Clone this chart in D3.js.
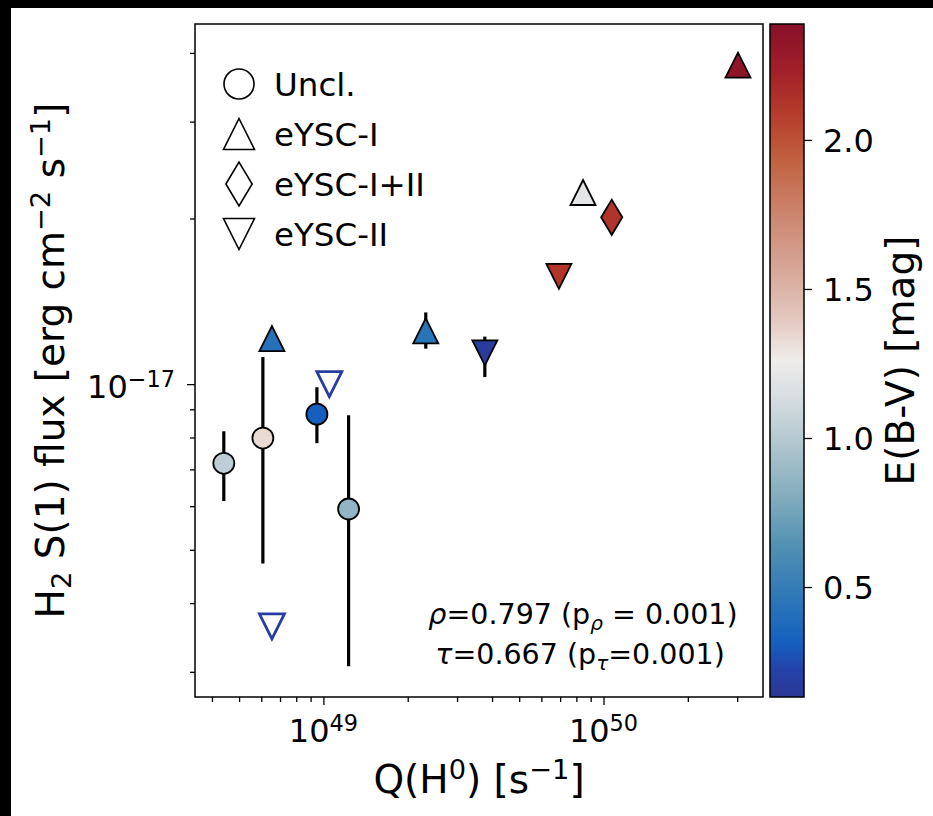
<!DOCTYPE html>
<html>
<head>
<meta charset="utf-8">
<script src="https://cdn.jsdelivr.net/npm/d3@7"></script>
<style>
  body { margin: 0; background: #fff; }
  svg { display: block; font-family: "DejaVu Sans", sans-serif; }
</style>
</head>
<body>
<div id="chart"></div>
<script>
var svgWidth = 933;
var svgHeight = 816;

// plot frame and colorbar box (pixels)
var plot = { left: 195, right: 763, top: 24, bottom: 697 };
var cbar = { left: 770, right: 804 };

// ---- data ----
var classes = ["Uncl.", "Uncl.", "Uncl.", "Uncl.",
  "eYSC-I", "eYSC-I", "eYSC-I", "eYSC-I",
  "eYSC-I+II",
  "eYSC-II", "eYSC-II", "eYSC-II", "eYSC-II"];
var qH0 = [4.41e48, 6.08e48, 9.48e48, 1.23e49,
  6.55e48, 2.32e49, 8.45e49, 3.02e50,
  1.07e50,
  6.93e49, 3.77e49, 1.05e49, 6.55e48];
var h2Flux = [7.18e-18, 7.98e-18, 8.82e-18, 5.93e-18,
  1.21e-17, 1.25e-17, 2.23e-17, 3.80e-17,
  2.01e-17,
  1.57e-17, 1.14e-17, 1.00e-17, 3.63e-18];
var fluxLow = [6.13e-18, 4.72e-18, 7.81e-18, 3.07e-18,
  null, 1.16e-17, null, null,
  null,
  null, 1.03e-17, null, null];
var fluxHigh = [8.21e-18, 1.12e-17, 9.87e-18, 8.78e-18,
  null, 1.35e-17, null, null,
  null,
  null, 1.22e-17, null, null];
var ebv = [1.03, 1.33, 0.31, 0.86,
  0.42, 0.44, 1.2, 2.35,
  2.13,
  2.12, 0.16, 0.18, 0.18];
// hollow markers (upper limits)
var upperLimit = [false, false, false, false,
  false, false, false, false,
  false,
  false, false, true, true];

var legendLabels = ["Uncl.", "eYSC-I", "eYSC-I+II", "eYSC-II"];
var cbarTicks = [0.5, 1.0, 1.5, 2.0];
var xMajor = [1e49, 1e50];
var xMajorExp = ["49", "50"];
var yMajor = [1e-17];
var yMajorExp = ["\u221217"];

// colormap stops (fraction of range, colour) sampled from the colorbar
var cmapPos = [0, 0.04, 0.08, 0.14, 0.22, 0.30, 0.38, 0.45, 0.50, 0.56, 0.64, 0.72, 0.80, 0.87, 0.93, 1];
var cmapCol = ["#2b3896", "#2541a8", "#1560bf", "#2a75b9", "#4f8fb1", "#84adbd", "#b3c8cf", "#d9dfe2",
  "#efecea", "#e3c9c0", "#d6a595", "#cc846c", "#c1603f", "#b43a2b", "#a22029", "#871029"];
var ebvDomain = [0.131, 2.389];

var shapeOf = { "Uncl.": "circle", "eYSC-I": "up", "eYSC-I+II": "diamond", "eYSC-II": "down" };

var svg = d3.select("#chart")
  .append("svg")
  .attr("width", svgWidth)
  .attr("height", svgHeight);

svg.append("rect").attr("width", svgWidth).attr("height", svgHeight).attr("fill", "#fff");
// black strips at the top / left edge of the original screenshot
svg.append("rect").attr("x", 0).attr("y", 0).attr("width", svgWidth).attr("height", 8).attr("fill", "#000");
svg.append("rect").attr("x", 0).attr("y", 0).attr("width", 11).attr("height", svgHeight).attr("fill", "#000");

// Step 1: scales
var x = d3.scaleLog().domain([3.48e48, 3.71e50]).range([plot.left, plot.right]);
var y = d3.scaleLog().domain([2.70e-18, 4.514e-17]).range([plot.bottom, plot.top]);
var cpos = d3.scaleLinear().domain(ebvDomain).range([0, 1]);
var cmap = d3.scaleLinear().domain(cmapPos).range(cmapCol).interpolate(d3.interpolateRgb);
var color = function(v) { return cmap(Math.max(0, Math.min(1, cpos(v)))); };
var cy = d3.scaleLinear().domain(ebvDomain).range([plot.bottom, plot.top]);

// marker path strings, centred on the bounding box like matplotlib
function markerPath(kind, s) {
  var h = s / 2;
  if (kind === "circle") {
    return "M" + (-h) + ",0A" + h + "," + h + " 0 1,0 " + h + ",0A" + h + "," + h + " 0 1,0 " + (-h) + ",0Z";
  }
  if (kind === "up") return "M0," + (-h) + "L" + h + "," + h + "L" + (-h) + "," + h + "Z";
  if (kind === "down") return "M0," + h + "L" + h + "," + (-h) + "L" + (-h) + "," + (-h) + "Z";
  // thin diamond
  var dh = s * 0.707, dw = dh * 0.6;
  return "M0," + (-dh) + "L" + dw + ",0L0," + dh + "L" + (-dw) + ",0Z";
}
function plotSize(kind) { return kind === "circle" ? 21 : 25; }

// Step 2: axes (major + minor ticks, labels drawn by hand)
var xMinor = x.ticks().filter(function(d) { return xMajor.indexOf(d) < 0; });
var yMinor = y.ticks().filter(function(d) { return Math.abs(Math.log10(d) - Math.round(Math.log10(d))) > 1e-6; });

function styleAxis(g) {
  g.select(".domain").remove();
  g.selectAll(".tick line").attr("stroke", "#000").attr("stroke-width", 1.3);
  g.selectAll(".tick text").remove();
}

svg.append("g")
  .attr("transform", "translate(0," + plot.bottom + ")")
  .call(d3.axisBottom(x).tickValues(xMajor).tickSize(8))
  .call(styleAxis);
svg.append("g")
  .attr("transform", "translate(0," + plot.bottom + ")")
  .call(d3.axisBottom(x).tickValues(xMinor).tickSize(5))
  .call(styleAxis);
svg.append("g")
  .attr("transform", "translate(" + plot.left + ",0)")
  .call(d3.axisLeft(y).tickValues(yMajor).tickSize(8))
  .call(styleAxis);
svg.append("g")
  .attr("transform", "translate(" + plot.left + ",0)")
  .call(d3.axisLeft(y).tickValues(yMinor).tickSize(5))
  .call(styleAxis);

// tick labels 10^n
xMajor.forEach(function(v, i) {
  var t = svg.append("text")
    .attr("x", x(v)).attr("y", 742)
    .attr("text-anchor", "middle")
    .attr("font-size", 32);
  t.append("tspan").text("10");
  t.append("tspan").attr("dy", -11).attr("font-size", 22.4).text(xMajorExp[i]);
});
yMajor.forEach(function(v, i) {
  var t = svg.append("text")
    .attr("x", plot.left - 20).attr("y", y(v) + 14)
    .attr("text-anchor", "end")
    .attr("font-size", 32);
  t.append("tspan").text("10");
  t.append("tspan").attr("dy", -11).attr("font-size", 22.4).text(yMajorExp[i]);
});

// Step 3: error bars
var idx = d3.range(qH0.length);
svg.append("g").selectAll("line")
  .data(idx.filter(function(i) { return fluxLow[i] !== null; }))
  .enter()
  .append("line")
  .attr("x1", function(i) { return x(qH0[i]); })
  .attr("x2", function(i) { return x(qH0[i]); })
  .attr("y1", function(i) { return y(fluxLow[i]); })
  .attr("y2", function(i) { return y(fluxHigh[i]); })
  .attr("stroke", "#000")
  .attr("stroke-width", 3.2);

// Step 4: markers
svg.append("g").selectAll("path")
  .data(idx)
  .enter()
  .append("path")
  .attr("transform", function(i) { return "translate(" + x(qH0[i]) + "," + y(h2Flux[i]) + ")"; })
  .attr("d", function(i) { var k = shapeOf[classes[i]]; return markerPath(k, plotSize(k)); })
  .attr("fill", function(i) { return upperLimit[i] ? "none" : color(ebv[i]); })
  .attr("stroke", function(i) { return upperLimit[i] ? color(ebv[i]) : "#000"; })
  .attr("stroke-width", function(i) { return upperLimit[i] ? 2.8 : 1.8; })
  .attr("stroke-linejoin", "miter");

// plot frame
svg.append("rect")
  .attr("x", plot.left).attr("y", plot.top)
  .attr("width", plot.right - plot.left).attr("height", plot.bottom - plot.top)
  .attr("fill", "none").attr("stroke", "#000").attr("stroke-width", 1.5);

// Step 5: legend
var legend = svg.append("g");
legendLabels.forEach(function(lab, i) {
  var ly = 84 + i * 50;
  legend.append("path")
    .attr("transform", "translate(239," + ly + ")")
    .attr("d", markerPath(shapeOf[lab], shapeOf[lab] === "circle" ? 30 : 31))
    .attr("fill", "#fff").attr("stroke", "#000").attr("stroke-width", 1.6);
  legend.append("text")
    .attr("x", 274).attr("y", ly + 11.5)
    .attr("font-size", 32.5)
    .text(lab);
});

// Step 6: correlation annotation
var ann1 = svg.append("text").attr("x", 583).attr("y", 624).attr("text-anchor", "middle").attr("font-size", 28.5);
ann1.append("tspan").attr("font-style", "italic").text("\u03c1");
ann1.append("tspan").text("=0.797 (p");
ann1.append("tspan").attr("font-style", "italic").attr("font-size", 20).attr("dy", 6).text("\u03c1");
ann1.append("tspan").attr("dy", -6).text(" = 0.001)");
var ann2 = svg.append("text").attr("x", 580).attr("y", 664).attr("text-anchor", "middle").attr("font-size", 28.5);
ann2.append("tspan").attr("font-style", "italic").text("\u03c4");
ann2.append("tspan").text("=0.667 (p");
ann2.append("tspan").attr("font-style", "italic").attr("font-size", 20).attr("dy", 6).text("\u03c4");
ann2.append("tspan").attr("dy", -6).text("=0.001)");

// Step 7: axis labels
var xl = svg.append("text")
  .attr("x", (plot.left + plot.right) / 2).attr("y", 793)
  .attr("text-anchor", "middle").attr("font-size", 39);
xl.append("tspan").text("Q(H");
xl.append("tspan").attr("dy", -14).attr("font-size", 27.3).text("0");
xl.append("tspan").attr("dy", 14).text(") [s");
xl.append("tspan").attr("dy", -14).attr("font-size", 27.3).text("\u22121");
xl.append("tspan").attr("dy", 14).text("]");

var yl = svg.append("text")
  .attr("transform", "translate(64," + ((plot.top + plot.bottom) / 2) + ") rotate(-90)")
  .attr("text-anchor", "middle").attr("font-size", 39);
yl.append("tspan").text("H");
yl.append("tspan").attr("dy", 7).attr("font-size", 27.3).text("2");
yl.append("tspan").attr("dy", -7).text(" S(1) flux [erg cm");
yl.append("tspan").attr("dy", -14).attr("font-size", 27.3).text("\u22122");
yl.append("tspan").attr("dy", 14).text(" s");
yl.append("tspan").attr("dy", -14).attr("font-size", 27.3).text("\u22121");
yl.append("tspan").attr("dy", 14).text("]");

// Step 8: colorbar
var grad = svg.append("defs").append("linearGradient")
  .attr("id", "cbarGrad")
  .attr("x1", 0).attr("y1", 1).attr("x2", 0).attr("y2", 0);
grad.selectAll("stop")
  .data(cmapPos)
  .enter()
  .append("stop")
  .attr("offset", function(d) { return d; })
  .attr("stop-color", function(d, i) { return cmapCol[i]; });

svg.append("rect")
  .attr("x", cbar.left).attr("y", plot.top)
  .attr("width", cbar.right - cbar.left).attr("height", plot.bottom - plot.top)
  .attr("fill", "url(#cbarGrad)")
  .attr("stroke", "#000").attr("stroke-width", 1.5);

var cAxis = svg.append("g")
  .attr("transform", "translate(" + cbar.right + ",0)")
  .call(d3.axisRight(cy).tickValues(cbarTicks).tickSize(8).tickFormat(d3.format(".1f")));
cAxis.select(".domain").remove();
cAxis.selectAll(".tick line").attr("stroke", "#000").attr("stroke-width", 1.3);
cAxis.selectAll(".tick text")
  .attr("x", 19).attr("dy", "0.36em")
  .attr("font-size", 32).attr("font-family", "DejaVu Sans, sans-serif").attr("fill", "#000");

svg.append("text")
  .attr("transform", "translate(914," + ((plot.top + plot.bottom) / 2) + ") rotate(-90)")
  .attr("text-anchor", "middle").attr("font-size", 39)
  .text("E(B-V) [mag]");
</script>
</body>
</html>
